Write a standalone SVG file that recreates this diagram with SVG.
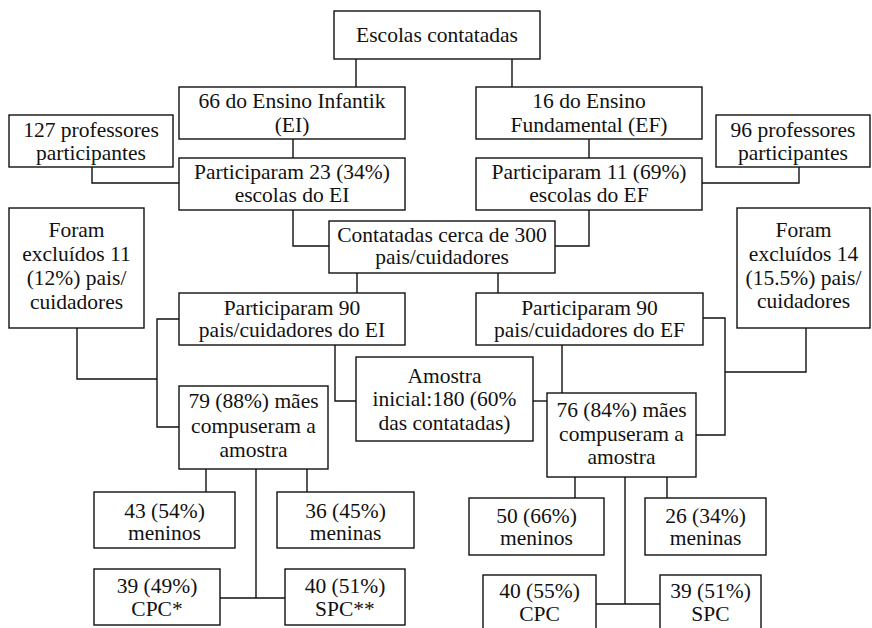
<svg xmlns="http://www.w3.org/2000/svg" width="872" height="628" viewBox="0 0 872 628">
<style>
rect{fill:#fff;stroke:#111;stroke-width:1.4}
text{font-size:21.5px;fill:#111;text-anchor:middle}
#connectors path{fill:none;stroke:#111;stroke-width:1.4}
</style>
<rect x="0" y="0" width="872" height="628" style="stroke:none"/>
<g id="connectors">
<path d="M356,59V87"/>
<path d="M512,59V87"/>
<path d="M293,139V158"/>
<path d="M589,139V158"/>
<path d="M92,167V183H179"/>
<path d="M799,167V183H702"/>
<path d="M293,210V246H329"/>
<path d="M589,210V246H555"/>
<path d="M357,273V293"/>
<path d="M498,273V293"/>
<path d="M179,319H157V427H179"/>
<path d="M77,328V379H157"/>
<path d="M335,345V401H356"/>
<path d="M533,401H547"/>
<path d="M562,345V393"/>
<path d="M703,318H725V435H696"/>
<path d="M806,328V372H725"/>
<path d="M206,469V492"/>
<path d="M307,469V492"/>
<path d="M256,469V598"/>
<path d="M220,598H285"/>
<path d="M575,477V498"/>
<path d="M667,477V498"/>
<path d="M625,477V604"/>
<path d="M596,604H660"/>
</g>
<g font-family="Liberation Serif, Tinos, DejaVu Serif, Times New Roman, serif">
<g id="escolas"><rect x="334" y="11" width="206" height="48"/><text x="437" y="42">Escolas contatadas</text></g>
<g id="ei"><rect x="179" y="87" width="226" height="52"/><text x="292" y="108">66 do Ensino Infantik</text><text x="292" y="132">(EI)</text></g>
<g id="ef"><rect x="476" y="87" width="226" height="52"/><text x="589" y="108">16 do Ensino</text><text x="589" y="132">Fundamental (EF)</text></g>
<g id="prof127"><rect x="9" y="115" width="164" height="52"/><text x="91" y="137">127 professores</text><text x="91" y="160">participantes</text></g>
<g id="prof96"><rect x="716" y="115" width="154" height="52"/><text x="793" y="137">96 professores</text><text x="793" y="160">participantes</text></g>
<g id="part23"><rect x="179" y="158" width="226" height="52"/><text x="292" y="179">Participaram 23 (34%)</text><text x="292" y="202">escolas do EI</text></g>
<g id="part11"><rect x="476" y="158" width="226" height="52"/><text x="589" y="179">Participaram 11 (69%)</text><text x="589" y="202">escolas do EF</text></g>
<g id="contatadas"><rect x="329" y="221" width="226" height="52"/><text x="442" y="242">Contatadas cerca de 300</text><text x="442" y="264">pais/cuidadores</text></g>
<g id="excl11"><rect x="9" y="208" width="135" height="120"/><text x="76.5" y="237">Foram</text><text x="76.5" y="261">excluídos 11</text><text x="76.5" y="285">(12%) pais/</text><text x="76.5" y="309">cuidadores</text></g>
<g id="excl14"><rect x="737" y="208" width="133" height="120"/><text x="803.5" y="237">Foram</text><text x="803.5" y="261">excluídos 14</text><text x="803.5" y="285">(15.5%) pais/</text><text x="803.5" y="308">cuidadores</text></g>
<g id="p90ei"><rect x="179" y="293" width="226" height="52"/><text x="292" y="315">Participaram 90</text><text x="292" y="337">pais/cuidadores do EI</text></g>
<g id="p90ef"><rect x="476" y="293" width="227" height="52"/><text x="589.5" y="315">Participaram 90</text><text x="589.5" y="337">pais/cuidadores do EF</text></g>
<g id="amostra"><rect x="356" y="357" width="177" height="84"/><text x="444.5" y="383">Amostra</text><text x="444.5" y="406">inicial:180 (60%</text><text x="444.5" y="430">das contatadas)</text></g>
<g id="maes79"><rect x="179" y="386" width="149" height="83"/><text x="253.5" y="408">79 (88%) mães</text><text x="253.5" y="433">compuseram a</text><text x="253.5" y="457">amostra</text></g>
<g id="maes76"><rect x="547" y="393" width="149" height="84"/><text x="621.5" y="417">76 (84%) mães</text><text x="621.5" y="441">compuseram a</text><text x="621.5" y="464">amostra</text></g>
<g id="meninos43"><rect x="94" y="492" width="141" height="56"/><text x="164.5" y="518">43 (54%)</text><text x="164.5" y="540">meninos</text></g>
<g id="meninas36"><rect x="277" y="492" width="137" height="56"/><text x="345.5" y="518">36 (45%)</text><text x="345.5" y="540">meninas</text></g>
<g id="cpc39"><rect x="94" y="569" width="126" height="56"/><text x="157" y="593">39 (49%)</text><text x="157" y="616">CPC*</text></g>
<g id="spc40"><rect x="285" y="569" width="120" height="56"/><text x="345" y="593">40 (51%)</text><text x="345" y="616">SPC**</text></g>
<g id="meninos50"><rect x="469" y="498" width="135" height="57"/><text x="536.5" y="523">50 (66%)</text><text x="536.5" y="545">meninos</text></g>
<g id="meninas26"><rect x="645" y="498" width="121" height="57"/><text x="705.5" y="523">26 (34%)</text><text x="705.5" y="545">meninas</text></g>
<g id="cpc40"><rect x="483" y="575" width="113" height="70"/><text x="539.5" y="598">40 (55%)</text><text x="539.5" y="621">CPC</text></g>
<g id="spc39"><rect x="660" y="575" width="101" height="70"/><text x="710.5" y="598">39 (51%)</text><text x="710.5" y="621">SPC</text></g>
</g>
</svg>
